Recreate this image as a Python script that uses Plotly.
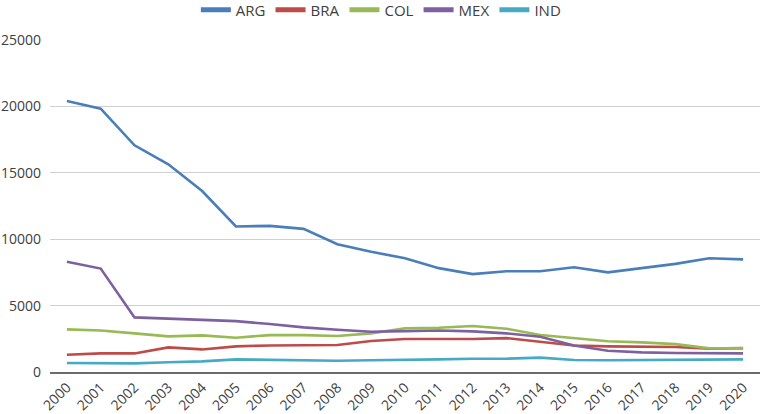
import plotly.graph_objects as go

years = [str(y) for y in range(2000, 2021)]
ARG = [20400, 19830, 17070, 15640, 13630, 10960, 11000, 10780, 9620, 9050, 8570,
       7820, 7370, 7590, 7590, 7890, 7500, 7840, 8140, 8570, 8480]
BRA = [1300, 1400, 1400, 1850, 1700, 1930, 2000, 2000, 2030, 2330, 2480,
       2480, 2480, 2550, 2260, 2000, 1930, 1930, 1880, 1760, 1800]
COL = [3210, 3130, 2910, 2680, 2760, 2580, 2780, 2780, 2710, 2910, 3300,
       3330, 3460, 3260, 2780, 2530, 2310, 2230, 2100, 1780, 1780]
MEX = [8300, 7790, 4110, 4030, 3930, 3830, 3610, 3360, 3180, 3030, 3080,
       3130, 3060, 2910, 2660, 2000, 1600, 1480, 1430, 1430, 1400]
IND = [680, 680, 650, 730, 800, 950, 900, 850, 850, 880, 900,
       950, 1000, 1000, 1080, 900, 880, 900, 930, 950, 950]

series = [("ARG", ARG, "#4A7EBB"), ("BRA", BRA, "#BE4B48"), ("COL", COL, "#98B954"),
          ("MEX", MEX, "#7D60A0"), ("IND", IND, "#46AAC5")]

fig = go.Figure()
for name, vals, col in series:
    fig.add_trace(go.Scatter(x=years, y=vals, name=name, mode="lines",
                             line=dict(color=col, width=2.6), showlegend=False,
                             legendgroup=name))
# legend-only entries with thicker swatches
for name, vals, col in series:
    fig.add_trace(go.Scatter(x=[None], y=[None], name=name, mode="lines",
                             line=dict(color=col, width=5), showlegend=True,
                             legendgroup=name, hoverinfo="skip"))

font = "Open Sans, Liberation Sans, sans-serif"
fig.update_layout(
    width=762, height=414,
    margin=dict(l=50, r=2, t=40, b=42, autoexpand=False),
    paper_bgcolor="white", plot_bgcolor="white",
    font=dict(family=font, size=14, color="#404040"),
    showlegend=True,
    legend=dict(orientation="h", x=0.466, xanchor="center", xref="paper",
                y=1.09, yanchor="middle", yref="paper",
                font=dict(size=15, color="#404040"),
                itemwidth=30, traceorder="normal", tracegroupgap=0,
                bgcolor="rgba(0,0,0,0)"),
    xaxis=dict(type="category", tickangle=-45, showgrid=False, showline=True,
               linecolor="#6b6b6b", linewidth=1.5, ticks="", range=[-0.5, 20.5],
               tickfont=dict(size=14, color="#404040"), automargin=False),
    yaxis=dict(range=[0, 25000], dtick=5000, tickformat="d", showgrid=True,
               gridcolor="#D0D0D0", gridwidth=1, zeroline=False, showline=False,
               ticks="", ticklabelstandoff=8,
               tickfont=dict(size=14, color="#404040"), automargin=False),
)
fig.write_html("out.html", config={"displayModeBar": False},
               post_script="document.body.style.margin='0';")
